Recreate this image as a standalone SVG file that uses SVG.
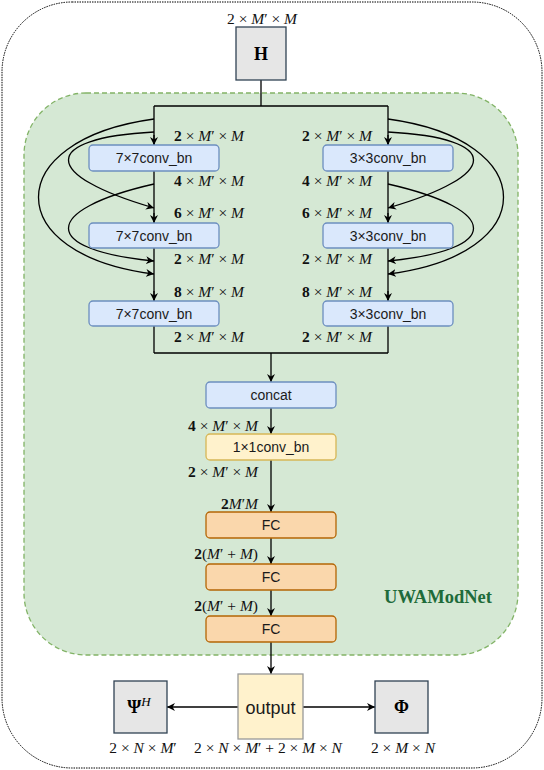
<svg xmlns="http://www.w3.org/2000/svg" width="544" height="770" viewBox="0 0 544 770">
<style>
.box{font-family:"Liberation Sans",Arial,sans-serif;font-size:14px;fill:#1a1a1a;text-anchor:middle}
.m{font-family:"Liberation Serif","Times New Roman",serif;font-size:15.5px;fill:#111}
.b{font-weight:bold}
.i{font-style:italic}
.ln{fill:none;stroke:#000;stroke-width:1.3}
.blue{fill:#dae8fc;stroke:#6c8ebf;stroke-width:1.3}
.yel{fill:#fff2cc;stroke:#d6b656;stroke-width:1.3}
.org{fill:#fad7ac;stroke:#b46504;stroke-width:1.3}
.gray{fill:#e6e6e6;stroke:#314354;stroke-width:1.3}
</style>
<defs>
<marker id="ah" viewBox="0 0 10 10" refX="10" refY="5" markerWidth="8" markerHeight="8" markerUnits="userSpaceOnUse" orient="auto">
<path d="M0,0 L10,5 L0,10 L3,5 Z" fill="#000"/>
</marker>
</defs>
<rect x="2" y="2" width="540" height="766" rx="70" ry="70" fill="#fff" stroke="#000" stroke-width="1" stroke-dasharray="1.5 1"/>
<g id="uwamodnet">
<rect x="24" y="93" width="494" height="562" rx="62" ry="62" fill="#d5e8d4" stroke="#82b366" stroke-width="1.3" stroke-dasharray="5 3"/>
<text x="438" y="603" text-anchor="middle" font-family="Liberation Serif,serif" font-weight="bold" font-size="18.5" fill="#1e6b3a">UWAModNet</text>
</g>
<g id="connectors">
<path class="ln" d="M261,80 V106 M154,106 H388 M154,106 V145 M388,106 V145"/>
<path class="ln" d="M154,171 V223 M154,248 V301 M154,326 V353 M388,171 V223 M388,248 V301 M388,326 V353 M154,353 H388"/>
<path class="ln" d="M154,135 V145" marker-end="url(#ah)"/>
<path class="ln" d="M388,135 V145" marker-end="url(#ah)"/>
<path class="ln" d="M154,213 V223" marker-end="url(#ah)"/>
<path class="ln" d="M388,213 V223" marker-end="url(#ah)"/>
<path class="ln" d="M154,291 V301" marker-end="url(#ah)"/>
<path class="ln" d="M388,291 V301" marker-end="url(#ah)"/>
<path class="ln" d="M154,119 C0,140 0,255 154,274" marker-end="url(#ah)"/>
<path class="ln" d="M154,132 C40,138 40,175 154,208" marker-end="url(#ah)"/>
<path class="ln" d="M154,184 C40,210 40,250 154,261" marker-end="url(#ah)"/>
<path class="ln" d="M388,119 C542,140 542,255 388,274" marker-end="url(#ah)"/>
<path class="ln" d="M388,132 C502,138 502,175 388,208" marker-end="url(#ah)"/>
<path class="ln" d="M388,184 C502,210 502,250 388,261" marker-end="url(#ah)"/>
<path class="ln" d="M271,353 V382" marker-end="url(#ah)"/>
<path class="ln" d="M271,408 V434" marker-end="url(#ah)"/>
<path class="ln" d="M271,460 V512" marker-end="url(#ah)"/>
<path class="ln" d="M271,538 V564" marker-end="url(#ah)"/>
<path class="ln" d="M271,590 V616" marker-end="url(#ah)"/>
<path class="ln" d="M271,642 V674" marker-end="url(#ah)"/>
<path class="ln" d="M238,707 H167" marker-end="url(#ah)"/>
<path class="ln" d="M303,707 H375" marker-end="url(#ah)"/>
</g>
<g id="H">
<rect class="gray" x="236" y="27" width="50" height="53"/>
<text x="261" y="60" text-anchor="middle" font-family="Liberation Serif,serif" font-weight="bold" font-size="18">H</text>
<text class="m" x="262" y="24" text-anchor="middle">2 × <tspan class="i">M</tspan>′ × <tspan class="i">M</tspan></text>
</g>
<g id="c7a"><rect class="blue" x="89" y="145" width="130" height="26" rx="4"/><text class="box" x="154" y="163">7×7conv_bn</text></g>
<g id="c7b"><rect class="blue" x="89" y="223" width="130" height="25" rx="4"/><text class="box" x="154" y="240.5">7×7conv_bn</text></g>
<g id="c7c"><rect class="blue" x="89" y="301" width="130" height="25" rx="4"/><text class="box" x="154" y="318.5">7×7conv_bn</text></g>
<g id="c3a"><rect class="blue" x="323" y="145" width="130" height="26" rx="4"/><text class="box" x="388" y="163">3×3conv_bn</text></g>
<g id="c3b"><rect class="blue" x="323" y="223" width="130" height="25" rx="4"/><text class="box" x="388" y="240.5">3×3conv_bn</text></g>
<g id="c3c"><rect class="blue" x="323" y="301" width="130" height="25" rx="4"/><text class="box" x="388" y="318.5">3×3conv_bn</text></g>
<g id="labels-left">
<text class="m" x="244" y="141" text-anchor="end"><tspan class="b">2</tspan> × <tspan class="i">M</tspan>′ × <tspan class="i">M</tspan></text>
<text class="m" x="244" y="186" text-anchor="end"><tspan class="b">4</tspan> × <tspan class="i">M</tspan>′ × <tspan class="i">M</tspan></text>
<text class="m" x="244" y="218" text-anchor="end"><tspan class="b">6</tspan> × <tspan class="i">M</tspan>′ × <tspan class="i">M</tspan></text>
<text class="m" x="244" y="264" text-anchor="end"><tspan class="b">2</tspan> × <tspan class="i">M</tspan>′ × <tspan class="i">M</tspan></text>
<text class="m" x="244" y="297" text-anchor="end"><tspan class="b">8</tspan> × <tspan class="i">M</tspan>′ × <tspan class="i">M</tspan></text>
<text class="m" x="244" y="342" text-anchor="end"><tspan class="b">2</tspan> × <tspan class="i">M</tspan>′ × <tspan class="i">M</tspan></text>
</g>
<g id="labels-right">
<text class="m" x="302" y="141"><tspan class="b">2</tspan> × <tspan class="i">M</tspan>′ × <tspan class="i">M</tspan></text>
<text class="m" x="302" y="186"><tspan class="b">4</tspan> × <tspan class="i">M</tspan>′ × <tspan class="i">M</tspan></text>
<text class="m" x="302" y="218"><tspan class="b">6</tspan> × <tspan class="i">M</tspan>′ × <tspan class="i">M</tspan></text>
<text class="m" x="302" y="264"><tspan class="b">2</tspan> × <tspan class="i">M</tspan>′ × <tspan class="i">M</tspan></text>
<text class="m" x="302" y="297"><tspan class="b">8</tspan> × <tspan class="i">M</tspan>′ × <tspan class="i">M</tspan></text>
<text class="m" x="302" y="342"><tspan class="b">2</tspan> × <tspan class="i">M</tspan>′ × <tspan class="i">M</tspan></text>
</g>
<g id="concat"><rect class="blue" x="206" y="382" width="130" height="26" rx="4"/><text class="box" x="271" y="400">concat</text></g>
<g id="c1"><rect class="yel" x="206" y="434" width="130" height="26" rx="4"/><text class="box" x="271" y="452">1×1conv_bn</text></g>
<g id="fc1"><rect class="org" x="206" y="512" width="130" height="26" rx="4"/><text class="box" x="271" y="530">FC</text></g>
<g id="fc2"><rect class="org" x="206" y="564" width="130" height="26" rx="4"/><text class="box" x="271" y="582">FC</text></g>
<g id="fc3"><rect class="org" x="206" y="616" width="130" height="26" rx="4"/><text class="box" x="271" y="634">FC</text></g>
<g id="labels-mid">
<text class="m" x="258" y="431" text-anchor="end"><tspan class="b">4</tspan> × <tspan class="i">M</tspan>′ × <tspan class="i">M</tspan></text>
<text class="m" x="258" y="477" text-anchor="end"><tspan class="b">2</tspan> × <tspan class="i">M</tspan>′ × <tspan class="i">M</tspan></text>
<text class="m" x="258" y="509" text-anchor="end"><tspan class="b">2</tspan><tspan class="i">M</tspan>′<tspan class="i">M</tspan></text>
<text class="m" x="258" y="559" text-anchor="end"><tspan class="b">2</tspan>(<tspan class="i">M</tspan>′ + <tspan class="i">M</tspan>)</text>
<text class="m" x="258" y="611" text-anchor="end"><tspan class="b">2</tspan>(<tspan class="i">M</tspan>′ + <tspan class="i">M</tspan>)</text>
</g>
<g id="output">
<rect x="238" y="674" width="65" height="65" fill="#fff2cc" stroke="#999" stroke-width="1.3"/>
<text x="270.5" y="714" text-anchor="middle" font-family="Liberation Sans,Arial,sans-serif" font-size="18" fill="#1a1a1a">output</text>
<text class="m" x="268" y="753" text-anchor="middle">2 × <tspan class="i">N</tspan> × <tspan class="i">M</tspan>′ + 2 × <tspan class="i">M</tspan> × <tspan class="i">N</tspan></text>
</g>
<g id="psi">
<rect class="gray" x="114" y="681" width="53" height="52"/>
<text x="139" y="713" text-anchor="middle" font-family="Liberation Serif,serif" font-size="18"><tspan font-weight="bold">Ψ</tspan><tspan font-style="italic" font-size="13" dy="-7">H</tspan></text>
<text class="m" x="143" y="753" text-anchor="middle">2 × <tspan class="i">N</tspan> × <tspan class="i">M</tspan>′</text>
</g>
<g id="phi">
<rect class="gray" x="375" y="681" width="53" height="52"/>
<text x="401.5" y="713" text-anchor="middle" font-family="Liberation Serif,serif" font-weight="bold" font-size="18">Φ</text>
<text class="m" x="403" y="753" text-anchor="middle">2 × <tspan class="i">M</tspan> × <tspan class="i">N</tspan></text>
</g>
</svg>
